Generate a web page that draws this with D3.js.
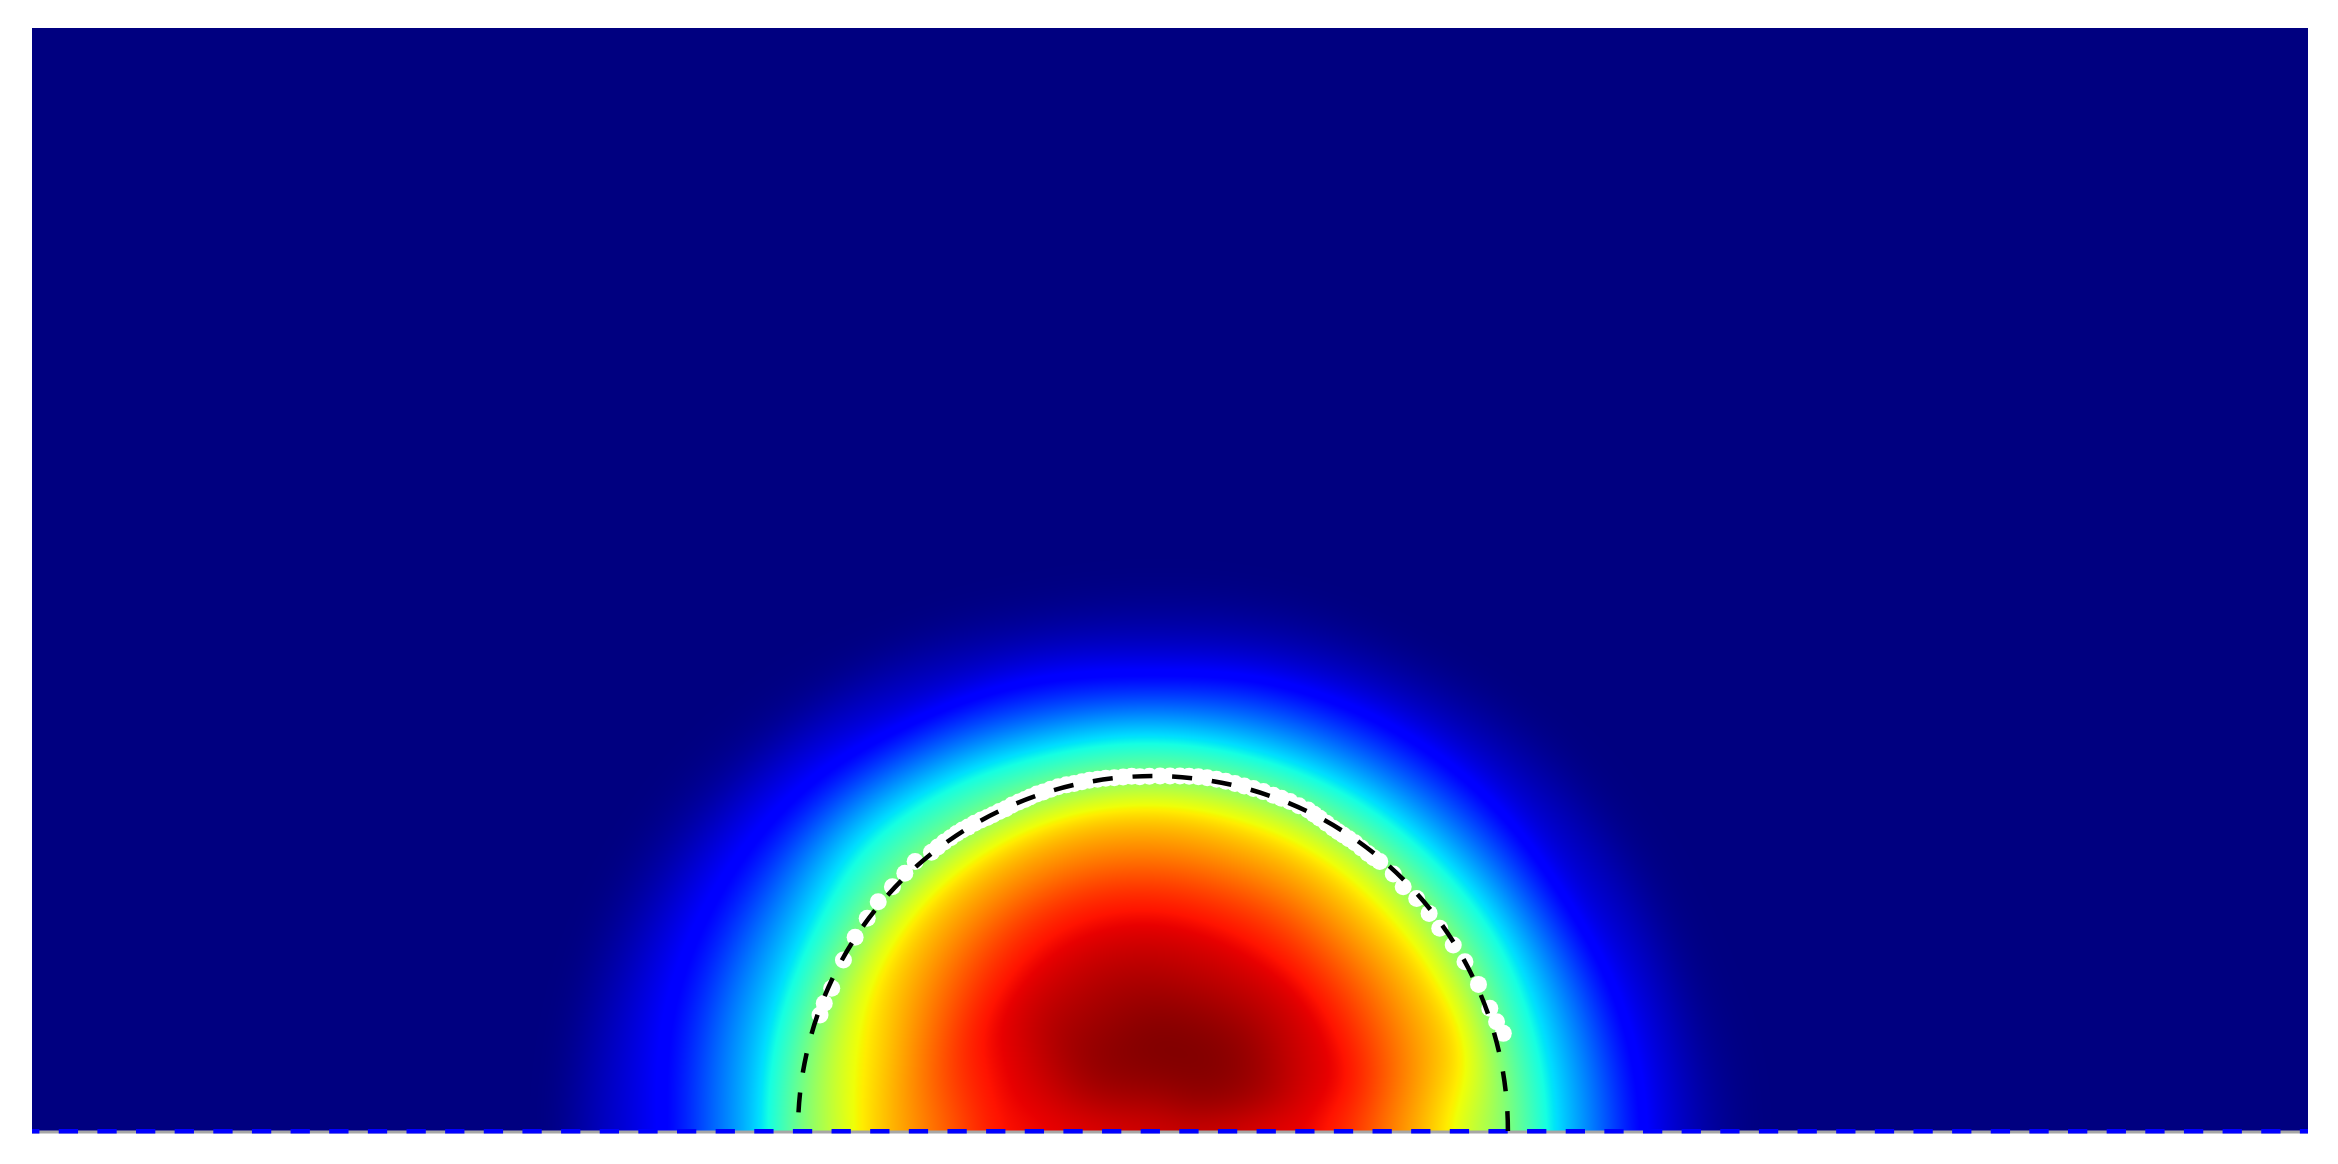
<!doctype HTML>
<html>
<head>
    <style>
        html, body { margin: 0; background: #fff; }
        #plot { position: relative; width: 2338px; height: 1164px; overflow: hidden; }
        #plot canvas, #plot svg { position: absolute; left: 0; top: 0; }
        #plot svg { filter: blur(0.5px); }
    </style>
    <script src="https://d3js.org/d3.v7.min.js"></script>
</head>
<body>
<div id="plot"></div>
<script>
    // field values, on a polar grid around the circle centre
    var radii = [0, 0.113, 0.225, 0.338, 0.451, 0.563, 0.676, 0.789, 0.901, 1.014, 1.127, 1.239, 1.352, 1.465, 1.577, 1.690];
    var angles = [0, 15, 30, 45, 60, 75, 90, 105, 120, 135, 150, 165, 180];
    var field0   = [.925, .925, .92, .91, .90, .85, .77, .69, .585, .49, .35, .245, .135, .07, .025, .002];
    var field15  = [.925, .95, .965, .955, .925, .895, .815, .735, .66, .485, .35, .235, .12, .06, .012, 0];
    var field30  = [.925, .97, .985, .975, .94, .905, .83, .745, .655, .485, .35, .215, .095, .05, .008, 0];
    var field45  = [.925, .975, .995, .985, .95, .91, .835, .745, .65, .48, .335, .205, .095, .04, .005, 0];
    var field60  = [.925, .975, 1, .985, .95, .91, .845, .755, .66, .48, .33, .195, .09, .03, 0, 0];
    var field75  = [.925, .98, 1, .985, .95, .915, .85, .76, .665, .48, .325, .185, .08, .025, 0, 0];
    var field90  = [.925, .975, 1, .985, .955, .92, .86, .77, .675, .485, .33, .165, .07, .02, 0, 0];
    var field105 = [.925, .975, .995, .98, .955, .92, .865, .775, .68, .49, .34, .185, .085, .025, 0, 0];
    var field120 = [.925, .97, .99, .975, .95, .915, .86, .77, .675, .495, .37, .225, .10, .045, .005, 0];
    var field135 = [.925, .96, .98, .97, .945, .905, .84, .755, .665, .495, .385, .26, .135, .07, .015, 0];
    var field150 = [.925, .95, .96, .945, .92, .89, .81, .73, .645, .485, .35, .245, .145, .085, .03, .002];
    var field165 = [.925, .935, .935, .92, .90, .855, .78, .695, .615, .475, .335, .24, .145, .09, .04, .005];
    var field180 = [.925, .915, .91, .90, .885, .82, .755, .685, .59, .47, .32, .225, .13, .085, .045, .006];
    var fieldRows = [field0, field15, field30, field45, field60, field75, field90, field105, field120, field135, field150, field165, field180];

    // white sample points along the front
    var pointX = [-.938, -.926, -.905, -.872, -.839, -.805, -.774, -.734, -.699, -.670, -.624, -.606, -.588, -.570, -.553, -.537, -.521, -.503, -.484, -.467, -.451, -.433, -.415, -.397, -.378, -.361, -.346, -.327, -.309, -.288, -.267, -.244, -.222, -.200, -.179, -.156, -.133, -.109, -.084, -.060, -.037, -.010, .020, .048, .076, .102, .128, .153, .179, .205, .231, .257, .283, .311, .339, .362, .386, .411, .437, .454, .470, .489, .508, .522, .536, .552, .569, .587, .606, .622, .639, .677, .705, .743, .778, .808, .846, .879, .917, .949, .968, .987];
    var pointY = [.327, .360, .402, .482, .546, .599, .646, .688, .726, .759, .785, .800, .814, .826, .838, .848, .856, .867, .876, .883, .891, .900, .908, .918, .927, .934, .941, .949, .955, .963, .970, .975, .979, .984, .988, .991, .994, .995, .997, .999, .998, .999, 1.000, 1.000, 1.000, .999, .998, .995, .991, .985, .979, .972, .965, .956, .946, .937, .928, .916, .904, .892, .881, .867, .853, .843, .834, .823, .812, .797, .782, .770, .759, .724, .688, .655, .613, .571, .524, .477, .413, .346, .308, .275];

    var canvasWidth = 2338;
    var canvasHeight = 1164;
    var left = 32, right = 2308, top_ = 28, bottom = 1131;

    var x = d3.scaleLinear().domain([-3.158, 3.254]).range([left, right]);
    var y = d3.scaleLinear().domain([0, 3.107]).range([bottom, top_]);

    // jet colormap, one scale per channel
    var red = d3.scaleLinear().domain([0, .35, .66, .89, 1]).range([0, 0, 255, 255, 128]).clamp(true);
    var green = d3.scaleLinear().domain([0, .125, .375, .64, .91, 1]).range([0, 0, 255, 255, 0, 0]).clamp(true);
    var blue = d3.scaleLinear().domain([0, .11, .34, .65, 1]).range([128, 255, 255, 0, 0]).clamp(true);

    var radiusIndex = d3.scaleLinear().domain(d3.extent(radii)).range([0, radii.length - 1]);
    var angleIndex = d3.scaleLinear().domain([0, 180]).range([0, angles.length - 1]);

    function cubic(a, b, c, d, t) {
        return b + 0.5 * t * (c - a + t * (2 * a - 5 * b + 4 * c - d + t * (3 * (b - c) + d - a)));
    }

    function sample(r, deg) {
        var ri = radiusIndex(r), ai = angleIndex(deg);
        var r0 = Math.floor(ri), a0 = Math.min(Math.floor(ai), angles.length - 2);
        var tr = ri - r0, ta = ai - a0;
        var cols = [0, 1, 2, 3].map(function(k) {
            var row = fieldRows[Math.max(0, Math.min(angles.length - 1, a0 - 1 + k))];
            function at(i) { return row[Math.max(0, Math.min(radii.length - 1, i))]; }
            return cubic(at(r0 - 1), at(r0), at(r0 + 1), at(r0 + 2), tr);
        });
        return Math.max(0, Math.min(1, cubic(cols[0], cols[1], cols[2], cols[3], ta)));
    }

    // heatmap: sample the grid, soften it, then colour it
    var canvas = d3.select("#plot").append("canvas")
        .attr("width", canvasWidth)
        .attr("height", canvasHeight)
        .node();
    var ctx = canvas.getContext("2d");
    var w = right - left, h = bottom - top_ + 1;
    var values = new Float32Array(w * h);
    var maxR = radii[radii.length - 1];
    for (var j = 0; j < h; j++) {
        var dy = y.invert(top_ + j);
        for (var i = 0; i < w; i++) {
            var dx = x.invert(left + i);
            var r = Math.sqrt(dx * dx + dy * dy);
            if (r < maxR) {
                values[j * w + i] = sample(r, Math.atan2(Math.max(dy, 0), dx) * 180 / Math.PI);
            }
        }
    }
    d3.blur2({data: values, width: w, height: h}, 14);

    var img = ctx.createImageData(w, h);
    for (var n = 0; n < values.length; n++) {
        img.data[n * 4] = red(values[n]);
        img.data[n * 4 + 1] = green(values[n]);
        img.data[n * 4 + 2] = blue(values[n]);
        img.data[n * 4 + 3] = 255;
    }
    ctx.putImageData(img, left, top_);

    var svg = d3.select("#plot").append("svg")
        .attr("width", canvasWidth)
        .attr("height", canvasHeight);

    // gray wall with the dashed blue line on it
    svg.append("line")
        .attr("x1", x.range()[0]).attr("x2", x.range()[1])
        .attr("y1", y(0) + 1).attr("y2", y(0) + 1)
        .attr("stroke", "#a6a6a6")
        .attr("stroke-width", 3);

    svg.append("line")
        .attr("x1", x.range()[0]).attr("x2", x.range()[1])
        .attr("y1", y(0) + 0.3).attr("y2", y(0) + 0.3)
        .attr("stroke", "#0000ff")
        .attr("stroke-width", 4.5)
        .attr("stroke-dasharray", "19.3 19.34")
        .attr("stroke-dashoffset", 11.9);

    // sample points
    svg.append("g")
        .selectAll("circle")
        .data(pointX.map(function(d, k) { return [d, pointY[k]]; }))
        .join("circle")
        .attr("cx", d => x(d[0]))
        .attr("cy", d => y(d[1]))
        .attr("r", 8.5)
        .attr("fill", "#fff");

    // dashed unit circle, starts at the right end
    var arc = d3.path();
    arc.arc(x(0), y(0), x(1) - x(0), 0, -Math.PI, true);
    svg.append("path")
        .attr("d", arc.toString())
        .attr("fill", "none")
        .attr("stroke", "#000")
        .attr("stroke-width", 4.5)
        .attr("stroke-dasharray", "20 19.85");
</script>
</body>
</html>
